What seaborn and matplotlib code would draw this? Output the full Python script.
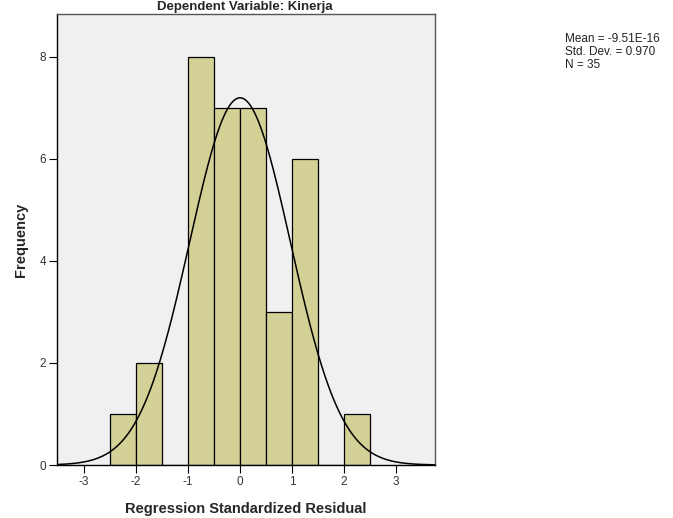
import numpy as np
import pandas as pd
import matplotlib
matplotlib.use("Agg")
import matplotlib.pyplot as plt
import seaborn as sns

# histogram bins (bin centres) and frequencies
bin_centers = [-2.25, -1.75, -1.25, -0.75, -0.25, 0.25, 0.75, 1.25, 1.75, 2.25]
frequencies = [1, 2, 0, 8, 7, 7, 3, 6, 0, 1]
bin_edges = [-2.5, -2.0, -1.5, -1.0, -0.5, 0.0, 0.5, 1.0, 1.5, 2.0, 2.5]
x_ticks = [-3, -2, -1, 0, 1, 2, 3]
y_ticks = [0, 2, 4, 6, 8]

mean_val = -9.51e-16
std_val = 0.970
n_val = 35
bin_width = 0.5

df = pd.DataFrame({"resid": bin_centers, "freq": frequencies})

sns.set_style("white")
plt.rcParams["font.family"] = ["Liberation Sans", "DejaVu Sans"]
plt.rcParams["axes.unicode_minus"] = False

fig = plt.figure(figsize=(6.73, 5.18), dpi=100)
ax = fig.add_axes([0.0847, 0.1023, 0.5617, 0.8707])
ax.set_facecolor("#f0f0f0")

sns.histplot(data=df, x="resid", weights="freq", bins=bin_edges, ax=ax,
             color="#d4d197", alpha=1, edgecolor="black", linewidth=0.9)

# fitted normal curve
xs = np.linspace(-3.52, 3.75, 400)
ys = n_val * bin_width * np.exp(-0.5 * ((xs - mean_val) / std_val) ** 2) / (std_val * np.sqrt(2 * np.pi))
sns.lineplot(x=xs, y=ys, ax=ax, color="black", linewidth=1.1)

ax.set_xlim(-3.52, 3.75)
ax.set_ylim(0, 8.84)
ax.set_xticks(x_ticks)
ax.set_yticks(y_ticks)
ax.tick_params(axis="both", direction="out", length=6, width=0.8, labelsize=8.5,
               colors="black", labelcolor="#333333", pad=2, bottom=True, left=True)
for s in ax.spines.values():
    s.set_color("black")
    s.set_linewidth(1.0)
ax.spines["top"].set_color("#555555")
ax.spines["right"].set_color("#555555")

ax.set_xlabel("Regression Standardized Residual", fontsize=10.5, fontweight="bold", labelpad=10)
ax.set_ylabel("Frequency", fontsize=10.5, fontweight="bold", labelpad=8)

fig.text(0.364, 0.999, "Dependent Variable: Kinerja", ha="center", va="top",
         fontsize=9.5, fontweight="bold")

fig.text(0.8395, 0.936, f"Mean = -9.51E-16\nStd. Dev. = {std_val:.3f}\nN = {n_val}",
         ha="left", va="top", fontsize=8.5, linespacing=1.1, color="#222222")

fig.savefig("out.png", dpi=100)
